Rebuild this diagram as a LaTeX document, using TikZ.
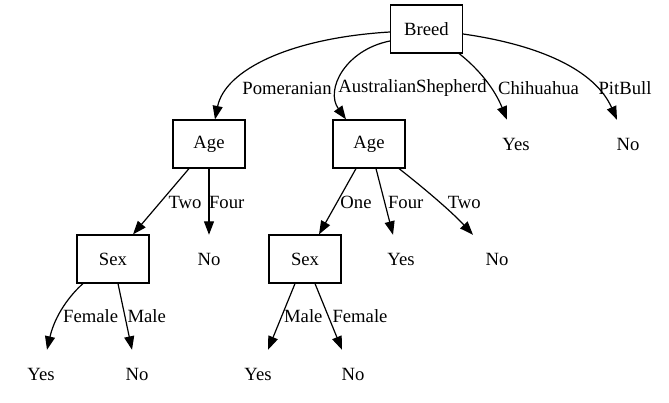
\documentclass[tikz,border=0pt]{standalone}
\usepackage{fontspec}
\setmainfont{Liberation Serif}
\usetikzlibrary{arrows.meta}
\begin{document}
\begin{tikzpicture}[x=1pt,y=-1pt,
  every node/.style={font=\fontsize{18.67pt}{22pt}\selectfont, inner sep=0pt},
  boxnode/.style={draw, line width=1.2pt, minimum width=72pt, minimum height=48pt},
  leaf/.style={minimum width=72pt, minimum height=48pt},
  lbl/.style={},
  edge/.style={line width=1.2pt, -{Triangle[length=13.5pt,width=10pt]}}]
\useasboundingbox (0,0) rectangle (669,403);
% nodes
\node[boxnode] (breed) at (426.5,29) {Breed};
\node[boxnode] (age1) at (209,144) {Age};
\node[boxnode] (age2) at (369,144) {Age};
\node[leaf] (yes1) at (516,144) {Yes};
\node[leaf] (no1) at (628,144) {No};
\node[boxnode] (sex1) at (113,259) {Sex};
\node[leaf] (no2) at (209,259) {No};
\node[boxnode] (sex2) at (305,259) {Sex};
\node[leaf] (yes2) at (401,259) {Yes};
\node[leaf] (no3) at (497,259) {No};
\node[leaf] (yes3) at (41,374) {Yes};
\node[leaf] (no4) at (137,374) {No};
\node[leaf] (yes4) at (258,374) {Yes};
\node[leaf] (no5) at (353,374) {No};
% edges
\draw[edge] ([yshift=-3pt]breed.west) .. controls (290,38) and (225,70) .. ([xshift=6pt]age1.north);
\draw[edge] ([yshift=-12pt]breed.west) .. controls (345,50) and (325,90) .. ([xshift=-23pt]age2.north);
\draw[edge] ([xshift=-4pt]breed.south east) .. controls (480,70) and (495,90) .. ([xshift=-9pt]yes1.north);
\draw[edge] ([yshift=-5pt]breed.east) .. controls (540,45) and (595,70) .. ([xshift=-11pt]no1.north);
\draw[edge] ([xshift=-20pt]age1.south) -- ([xshift=20pt]sex1.north);
\draw[edge] (age1.south) -- (no2.north);
\draw[edge] ([xshift=-13pt]age2.south) -- ([xshift=14pt]sex2.north);
\draw[edge] ([xshift=7pt]age2.south) -- ([xshift=-8pt]yes2.north);
\draw[edge] ([xshift=30pt]age2.south) .. controls (420,185) and (450,210) .. ([xshift=-24pt]no3.north);
\draw[edge] ([xshift=-30pt]sex1.south) .. controls (70,295) and (55,315) .. ([xshift=6pt]yes3.north);
\draw[edge] ([xshift=5pt]sex1.south) -- ([xshift=-5pt]no4.north);
\draw[edge] ([xshift=-10pt]sex2.south) -- ([xshift=10pt]yes4.north);
\draw[edge] ([xshift=10pt]sex2.south) -- ([xshift=-11pt]no5.north);
% labels
\node[lbl] (l1) at (287,88) {Pomeranian};
\node[lbl] (l2) at (412.5,88) {AustralianShepherd};
\node[lbl] (l3) at (538.5,88) {Chihuahua};
\node[lbl] (l4) at (625,88) {PitBull};
\node[lbl] (l5) at (185,202) {Two};
\node[lbl] (l6) at (226.7,202) {Four};
\node[lbl] (l7) at (356,202) {One};
\node[lbl] (l8) at (405.7,202) {Four};
\node[lbl] (l9) at (464.3,202) {Two};
\node[lbl] (l10) at (90.7,316) {Female};
\node[lbl] (l11) at (146.7,316) {Male};
\node[lbl] (l12) at (303.3,316) {Male};
\node[lbl] (l13) at (360,316) {Female};
\end{tikzpicture}
\end{document}
